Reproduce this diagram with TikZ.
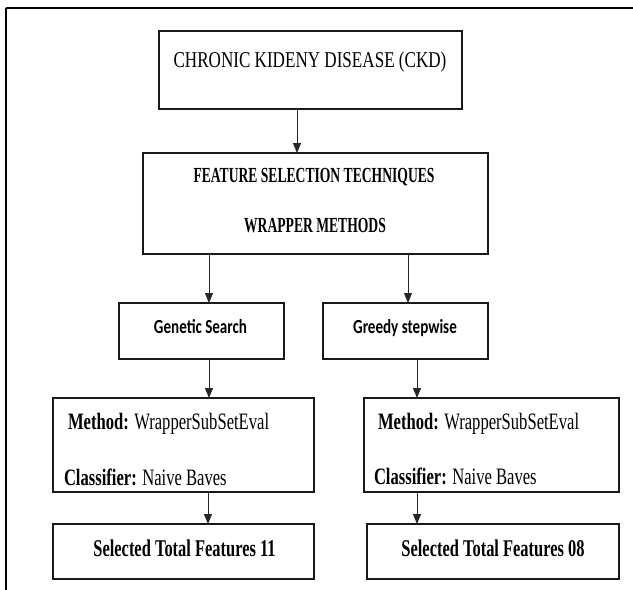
\documentclass[tikz,border=0pt]{standalone}
\usepackage{fontspec}
\usetikzlibrary{arrows.meta}
\newfontfamily\ckdfont[FakeStretch=0.756]{Liberation Serif}
\newfontfamily\featfont[FakeStretch=0.633]{Liberation Serif}
\newfontfamily\methfont[FakeStretch=0.706]{Liberation Serif}
\newfontfamily\selfont[FakeStretch=0.685]{Liberation Serif}
\newfontfamily\sansfnt[FakeStretch=0.754]{Carlito}
\tikzset{
  box/.style={draw=black!90, line width=1.3pt, inner sep=0pt, outer sep=0pt},
  arr/.style={draw=black!85, line width=1pt, -{Triangle[length=10pt,width=8pt]}},
  txt/.style={inner sep=0pt, outer sep=0pt, anchor=base},
  ltxt/.style={inner sep=0pt, outer sep=0pt, anchor=base west},
}
\begin{document}
\begin{tikzpicture}[x=1pt,y=-1pt]
\useasboundingbox (0,0) rectangle (633,590);
% outer frame
\draw[line width=2pt] (5.5,8) -- (633,8);
\draw[line width=1.3pt] (6,8) -- (6,590);
% boxes
\node[box, minimum width=303pt, minimum height=78pt] (ckd) at (310.5,70) {};
\node[box, minimum width=345pt, minimum height=101pt] (feat) at (315.5,203.5) {};
\node[box, minimum width=165pt, minimum height=56pt] (gen) at (201.5,331) {};
\node[box, minimum width=165pt, minimum height=56pt] (greedy) at (405.5,331) {};
\node[box, minimum width=261pt, minimum height=94pt] (meth1) at (183.5,445) {};
\node[box, minimum width=255pt, minimum height=94pt] (meth2) at (491.5,445) {};
\node[box, minimum width=261pt, minimum height=55pt] (sel1) at (183.5,551.5) {};
\node[box, minimum width=252pt, minimum height=55pt] (sel2) at (493,551.5) {};
% texts
\node[txt] (tckd) at (310,67.5) {\ckdfont\fontsize{22.6pt}{22.6pt}\selectfont CHRONIC KIDENY DISEASE (CKD)};
\node[txt] (tfeat) at (314,182) {\featfont\bfseries\fontsize{21.5pt}{21.5pt}\selectfont FEATURE SELECTION TECHNIQUES};
\node[txt] (twrap) at (315,232) {\featfont\bfseries\fontsize{21.5pt}{21.5pt}\selectfont WRAPPER METHODS};
\node[txt] (tgen) at (200.5,333.5) {\sansfnt\bfseries\fontsize{20pt}{20pt}\selectfont Genetic Search};
\node[txt] (tgreedy) at (405,333.5) {\sansfnt\bfseries\fontsize{20pt}{20pt}\selectfont Greedy stepwise};
\node[ltxt] (tm1) at (68,429) {\methfont\fontsize{23.5pt}{23.5pt}\selectfont\textbf{Method:} WrapperSubSetEval};
\node[ltxt] (tc1) at (64,485) {\methfont\fontsize{23.5pt}{23.5pt}\selectfont\textbf{Classifier:} Naive Baves};
\node[ltxt] (tm2) at (378,429) {\methfont\fontsize{23.5pt}{23.5pt}\selectfont\textbf{Method:} WrapperSubSetEval};
\node[ltxt] (tc2) at (374,484) {\methfont\fontsize{23.5pt}{23.5pt}\selectfont\textbf{Classifier:} Naive Baves};
\node[txt] (ts1) at (184.5,556) {\selfont\bfseries\fontsize{24pt}{24pt}\selectfont Selected Total Features 11};
\node[txt] (ts2) at (493,556) {\selfont\bfseries\fontsize{24pt}{24pt}\selectfont Selected Total Features 08};
% connectors
\draw[arr] ([xshift=-13.5pt]ckd.south) -- ([xshift=-13.5pt]ckd.south |- feat.north);
\draw[arr] ([xshift=7.5pt]gen.north |- feat.south) -- ([xshift=7.5pt]gen.north);
\draw[arr] ([xshift=2.5pt]greedy.north |- feat.south) -- ([xshift=2.5pt]greedy.north);
\draw[arr] ([xshift=7.5pt]gen.south) -- ([xshift=7.5pt]gen.south |- meth1.north);
\draw[arr] ([xshift=11.5pt]greedy.south) -- ([xshift=11.5pt]greedy.south |- meth2.north);
\draw[arr] ([xshift=24.5pt]meth1.south) -- ([xshift=24.5pt]meth1.south |- sel1.north);
\draw[arr] ([xshift=-74.5pt]meth2.south) -- ([xshift=-74.5pt]meth2.south |- sel2.north);
\end{tikzpicture}
\end{document}
